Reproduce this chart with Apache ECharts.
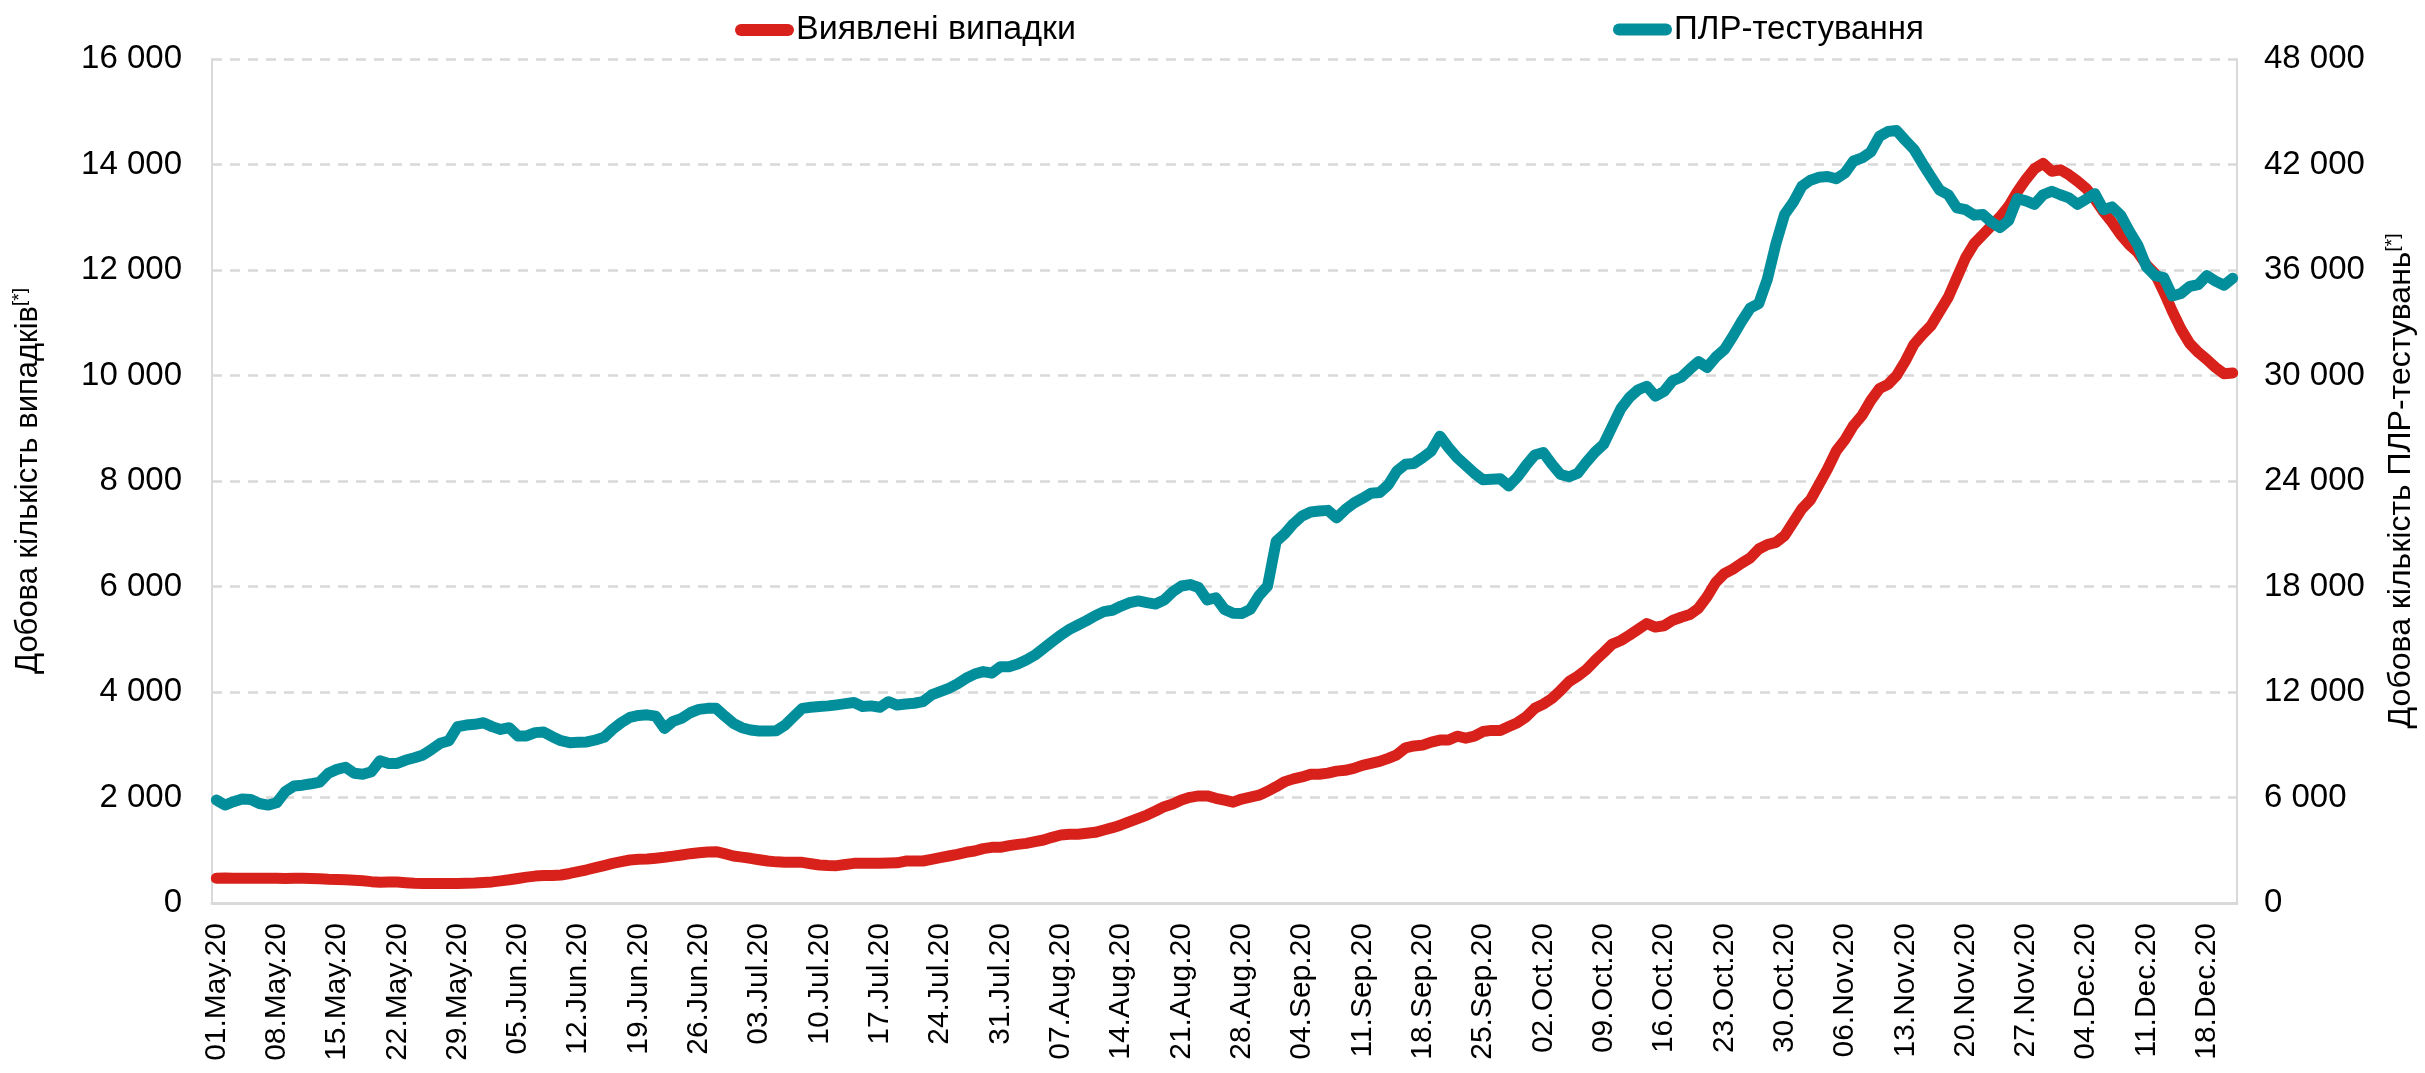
<!DOCTYPE html>
<html>
<head>
<meta charset="utf-8">
<script src="https://cdn.jsdelivr.net/npm/echarts@6/dist/echarts.min.js"></script>
<style>
html,body{margin:0;padding:0;background:#fff;}
#chart{width:2425px;height:1073px;}
</style>
</head>
<body>
<div id="chart"></div>
<script>
// ---- data ----
const startDate = [2020, 5, 1];   // 01.May.20, daily values
const monthNames = ['Jan','Feb','Mar','Apr','May','Jun','Jul','Aug','Sep','Oct','Nov','Dec'];
const seriesNames = ['Виявлені випадки', 'ПЛР-тестування'];
const leftTicks = [0, 2000, 4000, 6000, 8000, 10000, 12000, 14000, 16000];
const rightTicks = [0, 6000, 12000, 18000, 24000, 30000, 36000, 42000, 48000];

// Detected cases (daily, 7-day smoothed), left axis
const cases = [
 470,475,470,470,468,470,470,468,465,468,470,465,460,450,445,440,430,420,405,395,400,398,385,375,370,368,370,372,372,375,380,390,400,420,440,465,490,510,520,
 520,531,560,594,630,670,710,752,785,815,828,834,850,866,888,910,935,954,968,973,935,891,870,847,820,796,780,771,771,771,745,720,712,708,730,752,752,752,
 752,757,762,796,796,796,828,860,891,923,961,986,1030,1055,1055,1087,1112,1131,1163,1194,1245,1289,1302,1302,1321,1340,1384,1428,1479,1542,1605,1668,1744,1826,1877,1953,2003,2030,2030,
 1985,1949,1912,1971,2007,2044,2118,2206,2301,2353,2390,2441,2441,2463,2500,2515,2551,2610,2647,2684,2743,2809,2941,2978,2993,3051,3088,3088,3162,3125,3162,3250,3272,3272,3346,3419,3529,3691,
 3770,3877,4030,4199,4300,4427,4596,4749,4909,4977,5078,5188,5298,5231,5256,5357,5417,5467,5586,5806,6076,6245,6330,6440,6541,6711,6795,6837,6964,7218,7472,7641,7937,8233,8571,8782,9053,9248,9527,9750,
 9831,10000,10270,10588,10777,10946,11216,11486,11858,12230,12500,12669,12838,13007,13209,13480,13716,13919,14020,13872,13899,13804,13682,13547,13345,13108,12905,12669,12480,12331,12095,11926,11588,11216,10878,10608,10439,10304,10155,10034,10047
];

// PCR tests (daily, 7-day smoothed), right axis
const tests = [
 5860,5570,5760,5910,5890,5660,5570,5700,6330,6650,6700,6780,6880,7380,7600,7720,7380,7320,7470,8090,7940,7940,8130,8260,8420,8740,9080,9230,10030,10120,10160,10250,10030,9870,9970,9500,9500,9690,9720,
 9460,9230,9120,9140,9160,9270,9420,9880,10260,10560,10670,10700,10630,9930,10330,10500,10820,11010,11070,11070,10630,10220,9970,9840,9780,9780,9800,10120,10600,11070,11130,11170,11210,11270,11340,11400,11170,11210,
 11130,11450,11260,11320,11360,11450,11830,12020,12210,12460,12780,13020,13160,13070,13440,13440,13590,13820,14100,14480,14860,15240,15560,15810,16060,16340,16570,16650,16890,17080,17180,17080,17000,17230,17700,18030,18110,17940,17230,
 17360,16700,16480,16470,16700,17480,18030,20570,21010,21570,22010,22240,22290,22330,21900,22370,22740,23010,23300,23340,23780,24560,24950,25000,25330,25700,26550,25900,25330,24890,24440,24070,24100,24130,23720,24230,24890,25480,
 25620,24950,24370,24240,24440,25080,25640,26090,27110,28120,28760,29190,29390,28830,29090,29700,29900,30360,30790,30460,31040,31470,32230,33070,33830,34090,35480,37510,39160,39850,40760,41110,41270,41320,41190,41520,42200,42380,42710,43600,
 43880,43930,43380,42870,42060,41290,40540,40280,39530,39430,39120,39160,38720,38410,38820,40070,39930,39730,40280,40480,40280,40100,39730,40030,40340,39430,39590,39120,38210,37400,36180,35680,35570,34520,34660,35070,35170,35680,35370,35130,35530
];

// category labels: one per day, same length as the series
const categories = cases.map((_, i) => {
  const d = new Date(Date.UTC(startDate[0], startDate[1] - 1, startDate[2] + i));
  const dd = String(d.getUTCDate()).padStart(2, '0');
  return dd + '.' + monthNames[d.getUTCMonth()] + '.' + String(d.getUTCFullYear()).slice(2);
});

const fmt = v => String(v).replace(/\B(?=(\d{3})+(?!\d))/g, ' ');
const RED = '#d7211a';
const TEAL = '#038e9c';
const GRID = '#d9d9d9';
const FONT = '"Liberation Sans", Arial, sans-serif';
const NARROW = '"Liberation Sans Narrow", "Arial Narrow", "Liberation Sans", sans-serif';
const ICON = 'path://M6,0 H53 A6,6 0 0 1 53,12 H6 A6,6 0 0 1 6,0 Z';

const chart = echarts.init(document.getElementById('chart'), null, {renderer: 'canvas'});
chart.setOption({
  backgroundColor: '#ffffff',
  animation: false,
  textStyle: {fontFamily: FONT, color: '#000'},
  legend: [
    {
      data: [seriesNames[0]], left: 730, top: 8,
      itemWidth: 59, itemHeight: 13, icon: ICON,
      textStyle: {fontSize: 34, color: '#000', fontFamily: NARROW, padding: [0, 0, 0, -3]}
    },
    {
      data: [seriesNames[1]], left: 1608, top: 8,
      itemWidth: 59, itemHeight: 13, icon: ICON,
      textStyle: {fontSize: 33, color: '#000', fontFamily: NARROW, padding: [0, 0, 0, -3]}
    }
  ],
  grid: {left: 212, right: 182, top: 59, bottom: 170, containLabel: false},
  xAxis: {
    type: 'category',
    data: categories,
    boundaryGap: true,
    axisLine: {show: true, lineStyle: {color: GRID, width: 3}},
    axisTick: {show: false},
    axisLabel: {interval: 6, rotate: 90, fontSize: 30, color: '#000', margin: 20, fontFamily: FONT},
    splitLine: {show: false}
  },
  yAxis: [
    {
      type: 'value', min: leftTicks[0], max: leftTicks[leftTicks.length - 1], interval: leftTicks[1] - leftTicks[0],
      position: 'left',
      axisLine: {show: true, lineStyle: {color: GRID, width: 2}},
      axisTick: {show: false},
      axisLabel: {formatter: fmt, fontSize: 33, color: '#000', margin: 30, fontFamily: NARROW},
      splitLine: {show: true, lineStyle: {color: GRID, width: 2.5, type: [10, 8]}},
      name: '{a|Добова кількість випадків}{b|[*]}',
      nameLocation: 'middle', nameRotate: 90, nameGap: 166,
      nameTextStyle: {
        rich: {
          a: {fontSize: 31, color: '#000', fontFamily: FONT, lineHeight: 36},
          b: {fontSize: 19, color: '#000', fontFamily: FONT, verticalAlign: 'top', lineHeight: 36}
        }
      }
    },
    {
      type: 'value', min: rightTicks[0], max: rightTicks[rightTicks.length - 1], interval: rightTicks[1] - rightTicks[0],
      position: 'right',
      axisLine: {show: true, lineStyle: {color: GRID, width: 2}},
      axisTick: {show: false},
      axisLabel: {formatter: fmt, fontSize: 33, color: '#000', margin: 27, fontFamily: NARROW},
      splitLine: {show: false},
      name: '{a|Добова кількість ПЛР-тестувань}{b|[*]}',
      nameLocation: 'middle', nameRotate: 90, nameGap: 146,
      nameTextStyle: {
        rich: {
          a: {fontSize: 32, color: '#000', fontFamily: FONT, lineHeight: 36},
          b: {fontSize: 19, color: '#000', fontFamily: FONT, verticalAlign: 'top', lineHeight: 36}
        }
      }
    }
  ],
  series: [
    {
      name: seriesNames[0], type: 'line', data: cases, yAxisIndex: 0,
      showSymbol: false, symbol: 'none', color: RED,
      lineStyle: {color: RED, width: 11, cap: 'round', join: 'round'}
    },
    {
      name: seriesNames[1], type: 'line', data: tests, yAxisIndex: 1,
      showSymbol: false, symbol: 'none', color: TEAL,
      lineStyle: {color: TEAL, width: 11, cap: 'round', join: 'round'}
    }
  ]
});
</script>
</body>
</html>
